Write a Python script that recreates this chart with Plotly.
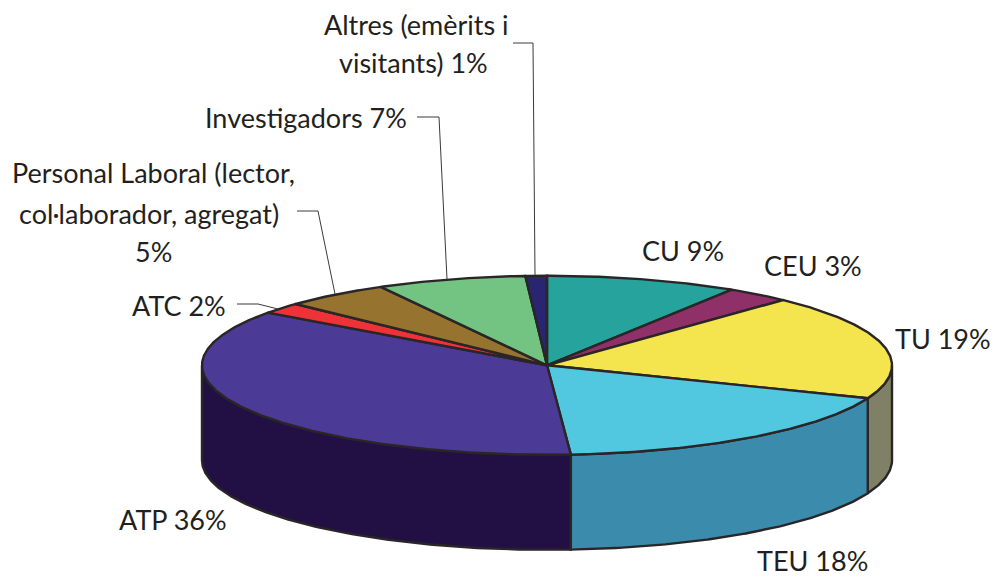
import math
import plotly.graph_objects as go

labels = ["CU", "CEU", "TU", "TEU", "ATP", "ATC", "Personal Laboral", "Investigadors", "Altres"]
values = [9, 3, 19, 17.9, 36.1, 2, 5, 7, 1]
top_colors = ["#25a39c", "#8f3068", "#f4e44e", "#52c7e0", "#4b3a96", "#ee3338", "#96732e", "#73c482", "#2a2570"]
side_colors = {"TU": "#808066", "TEU": "#3b8bac", "ATP": "#221044"}

CX, CY, RX, RY, DEPTH = 547, 365.3, 345, 89.5, 95
EDGE = "#2a2526"
FONT = "Lato"
FS = 27

# text, x centre, y centre
texts = [
    ("Altres (emèrits i", 416, 24.5), ("visitants) 1%", 413, 62.5),
    ("Investigadors 7%", 306, 117.5),
    ("Personal Laboral (lector,", 153, 172.5), ("col·laborador, agregat)", 149, 213), ("5%", 153, 251),
    ("ATC 2%", 179, 305.5),
    ("CU 9%", 683, 250.5), ("CEU 3%", 813, 265.5), ("TU 19%", 943, 338),
    ("TEU 18%", 812, 560), ("ATP 36%", 173, 519.5),
]
leaders = [
    ([513, 533, 535], [43, 43, 275]),
    ([417, 439, 447], [117, 117, 279]),
    ([297, 318, 335], [211, 211, 294]),
    ([237, 258, 278], [304, 304, 309]),
]


def pt(a, dy=0):
    r = math.radians(a)
    return CX + RX * math.sin(r), CY - RY * math.cos(r) + dy


def arc(a0, a1, dy=0):
    n = max(2, int(abs(a1 - a0)) * 2)
    return [pt(a0 + (a1 - a0) * i / n, dy) for i in range(n + 1)]


fig = go.Figure()


def poly(points, color, width=2.4):
    xs, ys = zip(*points)
    fig.add_trace(go.Scatter(x=list(xs) + [xs[0]], y=list(ys) + [ys[0]], mode="lines", fill="toself",
                             fillcolor=color, line=dict(color=EDGE, width=width), hoverinfo="skip",
                             showlegend=False))


total = sum(values)
cum = 0
spans = []
for v in values:
    spans.append((cum / total * 360, (cum + v) / total * 360))
    cum += v

# side walls: only the front half (90-270 degrees) is visible
for lab, (a0, a1) in zip(labels, spans):
    lo, hi = max(a0, 90), min(a1, 270)
    if lo < hi and lab in side_colors:
        poly(arc(lo, hi) + arc(hi, lo, DEPTH), side_colors[lab])

# top face
for c, (a0, a1) in zip(top_colors, spans):
    poly([(CX, CY)] + arc(a0, a1), c)

for xs, ys in leaders:
    fig.add_trace(go.Scatter(x=xs, y=ys, mode="lines", line=dict(color="#3a3a3a", width=1),
                             hoverinfo="skip", showlegend=False))

for t, x, y in texts:
    fig.add_annotation(x=x, y=y, text=t, showarrow=False, xanchor="center", yanchor="middle",
                       font=dict(family=FONT, size=FS, color="#231f20"))

fig.update_layout(
    width=996, height=577, margin=dict(l=0, r=0, t=0, b=0), paper_bgcolor="white", plot_bgcolor="white",
    xaxis=dict(range=[0, 996], visible=False, fixedrange=True),
    yaxis=dict(range=[577, 0], visible=False, fixedrange=True),
)
fig.write_html("out.html", config=dict(displayModeBar=False),
               post_script="document.body.style.margin='0';document.body.style.overflow='hidden';")
